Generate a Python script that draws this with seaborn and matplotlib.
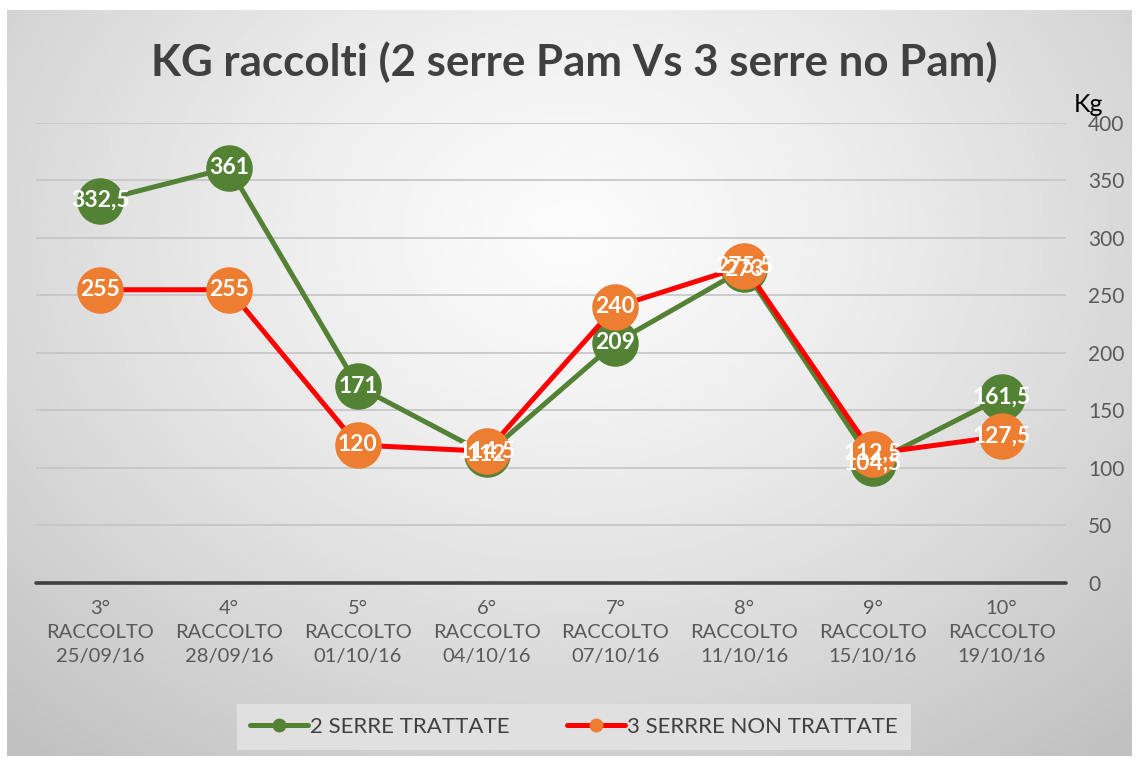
import numpy as np
import pandas as pd
import seaborn as sns
import matplotlib.pyplot as plt
from matplotlib.lines import Line2D

# data
raccolti = ['3°', '4°', '5°', '6°', '7°', '8°', '9°', '10°']
date = ['25/09/16', '28/09/16', '01/10/16', '04/10/16', '07/10/16', '11/10/16', '15/10/16', '19/10/16']
trattate = [332.5, 361, 171, 112, 209, 273, 104.5, 161.5]
non_trattate = [255, 255, 120, 114.5, 240, 275.5, 112.5, 127.5]
yticks = [0, 50, 100, 150, 200, 250, 300, 350, 400]

labels = [f'{r}\nRACCOLTO\n{d}' for r, d in zip(raccolti, date)]
df = pd.DataFrame({'pos': np.arange(len(raccolti)),
                   'trattate': trattate, 'non_trattate': non_trattate})

sns.set_theme(style='white')
plt.rcParams['font.family'] = ['Lato', 'DejaVu Sans']

fig = plt.figure(figsize=(11.38, 7.61), dpi=100)
fig.patch.set_facecolor('white')

# radial grey background like the Excel chart area
bg = fig.add_axes([0.006, 0.006, 0.988, 0.981], zorder=-10)
yy, xx = np.mgrid[0:1:300j, 0:1:400j]
r = np.sqrt(((xx - 0.5) / 0.75) ** 2 + ((yy - 0.3) / 0.9) ** 2)
grad = 0.985 - 0.23 * np.clip(r, 0, 1) ** 1.3
bg.imshow(grad, cmap='gray', vmin=0, vmax=1, aspect='auto', extent=[0, 1, 1, 0])
bg.set_axis_off()

ax = fig.add_axes([0.0316, 0.2339, 0.9051, 0.6045])
ax.patch.set_alpha(0)

green = '#548235'
red = '#FF0000'
orange = '#ED7D31'

sns.lineplot(data=df, x='pos', y='trattate', ax=ax, color=green, linewidth=3.6,
             marker='o', markersize=33.5, markerfacecolor=green, markeredgewidth=0, zorder=3)
sns.lineplot(data=df, x='pos', y='non_trattate', ax=ax, color=red, linewidth=3.6,
             marker='o', markersize=33.5, markerfacecolor=orange, markeredgewidth=0, zorder=4)

def fmt(v):
    return (f'{v:g}').replace('.', ',')

for x, v in zip(df['pos'], trattate):
    ax.text(x, v, fmt(v), ha='center', va='center', color='white',
            fontsize=16.5, fontweight='bold', zorder=5)
for x, v in zip(df['pos'], non_trattate):
    ax.text(x, v, fmt(v), ha='center', va='center', color='white',
            fontsize=16.5, fontweight='bold', zorder=6)

ax.set_xlim(-0.5, len(raccolti) - 0.5)
ax.set_ylim(0, 400)
ax.set_xticks(df['pos'])
ax.set_xticklabels(labels, fontsize=14.5, color='#595959', linespacing=1.5)
ax.set_yticks(yticks)
ax.yaxis.tick_right()
ax.tick_params(axis='y', labelsize=15, labelcolor='#595959', length=0, pad=16)
ax.tick_params(axis='x', length=0, pad=12)
ax.set_xlabel('')
ax.set_ylabel('')
for s in ax.spines.values():
    s.set_visible(False)
for t in yticks[1:]:
    ax.axhline(t, color='#c4c4c4', linewidth=1.2, zorder=1)
ax.axhline(0, color='#404040', linewidth=2.6, zorder=2, clip_on=False)

fig.text(1088 / 1138, 1 - 104 / 761, 'Kg', fontsize=18, color='black', ha='center', va='center')
fig.text(574 / 1138, 1 - 62 / 761, 'KG raccolti (2 serre Pam Vs 3 serre no Pam)',
         fontsize=31.6, fontweight='bold', color='#404040', ha='center', va='center')

handles = [
    Line2D([], [], color=green, linewidth=3.6, marker='o', markersize=10,
           markerfacecolor=green, markeredgewidth=0),
    Line2D([], [], color=red, linewidth=3.6, marker='o', markersize=10,
           markerfacecolor=orange, markeredgewidth=0),
]
leg = fig.legend(handles, ['2 SERRE TRATTATE', '3 SERRRE NON TRATTATE'],
                 loc='center', bbox_to_anchor=(574 / 1138, 1 - 727 / 761), ncol=2,
                 fontsize=16, frameon=True, fancybox=False, facecolor='#e0e0e0',
                 edgecolor='none', framealpha=1, handlelength=2.6, handletextpad=0.1,
                 columnspacing=2.6, borderpad=0.6, borderaxespad=0)
for t in leg.get_texts():
    t.set_color('#404040')

fig.savefig('out.png', dpi=100)
